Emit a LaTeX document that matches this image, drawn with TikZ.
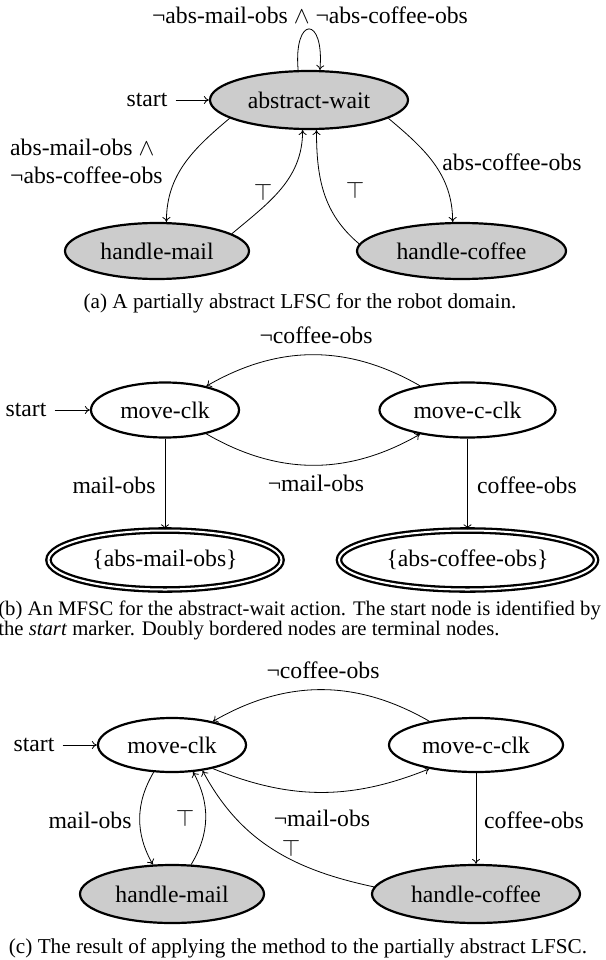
\documentclass[tikz,border=0pt]{standalone}
\usepackage{fix-cm}
\usepackage{fontspec}
\setmainfont{Liberation Serif}
\usetikzlibrary{shapes.geometric,arrows.meta}
\newcommand\NdFont{\fontsize{23.7}{28}\selectfont}
\newcommand\CpFont{\fontsize{21.2}{23.5}\selectfont}
\newcommand\CpbFont{\fontsize{20.7}{20.5}\selectfont}
\tikzset{
  st/.style={ellipse, draw, line width=2.2pt, inner sep=0pt, font=\NdFont},
  gst/.style={st, fill=black!20},
  term/.style={ellipse, draw, line width=2.3pt, double, double distance=2pt, inner sep=0pt, font=\NdFont},
  lbl/.style={font=\NdFont, inner sep=0pt},
  startlbl/.style={font=\NdFont, inner ysep=0pt, inner xsep=8pt},
  capt/.style={font=\CpFont, inner sep=0pt},
  captb/.style={font=\CpbFont, inner sep=0pt},
  arr/.style={line width=0.8pt, -{To[length=5pt,width=8pt]}},
}
\begin{document}
\begin{tikzpicture}[x=1pt,y=1pt]
\useasboundingbox (0,0) rectangle (605,-960);
% ---------- (a)
\node[gst, minimum width=198pt, minimum height=58pt] (aw) at (309,-100) {abstract-wait};
\node[gst, minimum width=184pt, minimum height=56pt] (hm) at (157,-251) {handle-mail};
\node[gst, minimum width=209pt, minimum height=56pt] (hc) at (461.5,-251) {handle-coffee};
\node[startlbl] (s1) at (147,-100) {start};
\draw[arr] (s1) -- (aw);
\draw[arr] (aw.110) .. controls +(95:55) and +(85:55) .. (aw.70);
\draw[arr] (aw.193) to[out=220,in=90] (hm.72);
\draw[arr] (hm.13) to[out=40,in=270] (aw.258);
\draw[arr] (hc.176) to[out=140,in=270] (aw.284);
\draw[arr] (aw.347) to[out=-40,in=90] (hc.107);
\node[lbl] (la1) at (310,-15) {¬abs-mail-obs $\wedge$ ¬abs-coffee-obs};
\node[lbl, anchor=west, align=left] (la2) at (10,-161.5) {abs-mail-obs $\wedge$\\¬abs-coffee-obs};
\node[lbl] (la3) at (512,-162) {abs-coffee-obs};
\node[lbl] (ta1) at (263,-192) {$\top$};
\node[lbl] (ta2) at (355,-190) {$\top$};
\node[capt] (ca) at (300,-303) {(a) A partially abstract LFSC for the robot domain.};
% ---------- (b)
\node[st, minimum width=148pt, minimum height=55pt] (mc1) at (165,-410) {move-clk};
\node[st, minimum width=176pt, minimum height=55pt] (mcc1) at (467.5,-410) {move-c-clk};
\node[term, minimum width=233pt, minimum height=59pt] (ab1) at (165,-560) {\{abs-mail-obs\}};
\node[term, minimum width=257pt, minimum height=59pt] (ab2) at (467.5,-560) {\{abs-coffee-obs\}};
\node[startlbl] (s2) at (26,-410) {start};
\draw[arr] (s2) -- (mc1);
\draw[arr] (mcc1.153) to[bend right=30] (mc1.30);
\draw[arr] (mc1.-30) to[bend right=30] (mcc1.207);
\draw[arr] (mc1) -- (ab1);
\draw[arr] (mcc1) -- (ab2);
\node[lbl] (lb1) at (316,-335) {¬coffee-obs};
\node[lbl] (lb2) at (316,-483) {¬mail-obs};
\node[lbl] (lb3) at (114,-485) {mail-obs};
\node[lbl] (lb4) at (527,-485) {coffee-obs};
\node[captb, anchor=base east] (cb1) at (601,-615) {(b) An MFSC for the abstract-wait action. The start node is identified by};
\node[captb, anchor=base west] (cb2) at ([yshift=-20pt]cb1.base west) {the \textit{start} marker. Doubly bordered nodes are terminal nodes.};
% ---------- (c)
\node[st, minimum width=148pt, minimum height=54pt] (mc2) at (172,-745) {move-clk};
\node[st, minimum width=174pt, minimum height=54pt] (mcc2) at (476,-745) {move-c-clk};
\node[gst, minimum width=184pt, minimum height=58pt] (hm2) at (172,-894) {handle-mail};
\node[gst, minimum width=208pt, minimum height=58pt] (hc2) at (476,-894) {handle-coffee};
\node[startlbl] (s3) at (34,-745) {start};
\draw[arr] (s3) -- (mc2);
\draw[arr] (mcc2.153) to[bend right=30] (mc2.30);
\draw[arr] (mc2.-30) to[bend right=22] (mcc2.207);
\draw[arr] (mc2.236) to[bend right=30] (hm2.123);
\draw[arr] (hm2.57) to[bend right=30] (mc2.-52);
\draw[arr] (hc2.176) to[out=168,in=-62] (mc2.-40);
\draw[arr] (mcc2) -- (hc2);
\node[lbl] (lc1) at (323,-670) {¬coffee-obs};
\node[lbl] (lc2) at (322,-818) {¬mail-obs};
\node[lbl] (lc3) at (90,-820) {mail-obs};
\node[lbl] (lc4) at (534,-820) {coffee-obs};
\node[lbl] (tc1) at (185,-818) {$\top$};
\node[lbl] (tc2) at (291,-848) {$\top$};
\node[capt] (cc) at (298,-948) {(c) The result of applying the method to the partially abstract LFSC.};
\end{tikzpicture}
\end{document}
